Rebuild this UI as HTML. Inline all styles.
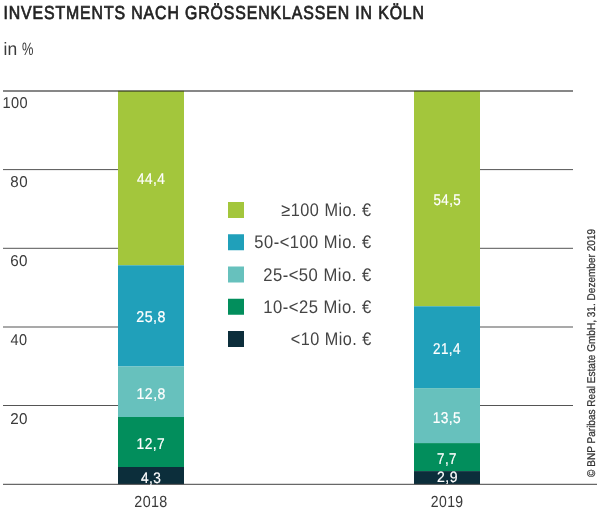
<!DOCTYPE html>
<html><head><meta charset="utf-8">
<style>
html,body{margin:0;padding:0;background:#fff;width:600px;height:514px;overflow:hidden}
svg{display:block;will-change:transform}
text{font-family:"Liberation Sans",sans-serif}
</style></head>
<body>
<svg width="600" height="514" viewBox="0 0 600 514">
<rect x="3" y="90.3" width="570" height="1.4" fill="#555"/>
<rect x="3" y="169.1" width="115" height="1" fill="#555"/>
<rect x="480" y="169.1" width="93" height="1" fill="#555"/>
<rect x="3" y="247.8" width="115" height="1" fill="#555"/>
<rect x="480" y="247.8" width="93" height="1" fill="#555"/>
<rect x="3" y="326.5" width="115" height="1" fill="#555"/>
<rect x="480" y="326.5" width="93" height="1" fill="#555"/>
<rect x="3" y="405.0" width="115" height="1" fill="#555"/>
<rect x="480" y="405.0" width="93" height="1" fill="#555"/>
<rect x="118" y="91" width="66" height="174.30" fill="#A3C63C"/>
<rect x="118" y="265.3" width="66" height="101.20" fill="#20A0BA"/>
<rect x="118" y="366.5" width="66" height="50.50" fill="#67C1BD"/>
<rect x="118" y="417.0" width="66" height="50.00" fill="#028E5C"/>
<rect x="118" y="467.0" width="66" height="17.20" fill="#0C2E3B"/>
<rect x="414" y="91" width="66" height="215.30" fill="#A3C63C"/>
<rect x="414" y="306.3" width="66" height="81.80" fill="#20A0BA"/>
<rect x="414" y="388.1" width="66" height="55.00" fill="#67C1BD"/>
<rect x="414" y="443.1" width="66" height="28.00" fill="#028E5C"/>
<rect x="414" y="471.1" width="66" height="13.10" fill="#0C2E3B"/>
<rect x="118" y="90.8" width="66" height="1.2" fill="#5f6e2c"/>
<rect x="414" y="90.8" width="66" height="1.2" fill="#5f6e2c"/>
<rect x="3" y="483.8" width="594" height="1" fill="#444"/>
<rect x="228" y="202.00" width="16" height="16" fill="#A3C63C"/>
<rect x="228" y="234.25" width="16" height="16" fill="#20A0BA"/>
<rect x="228" y="266.50" width="16" height="16" fill="#67C1BD"/>
<rect x="228" y="298.75" width="16" height="16" fill="#028E5C"/>
<rect x="228" y="331.00" width="16" height="16" fill="#0C2E3B"/>
<text transform="translate(3.39,18.80) scale(0.08517,0.10000) skewX(0.3)" font-size="187.0" letter-spacing="10.0" fill="#222" stroke="#222" stroke-width="7.0">INVESTMENTS NACH GRÖSSENKLASSEN IN KÖLN</text>
<text transform="translate(3.53,54.60) scale(0.09744,0.10000) skewX(0.3)" font-size="180.0" fill="#3a3a3a">in</text>
<text transform="translate(22.07,54.60) scale(0.07143,0.10000) skewX(0.3)" font-size="180.0" fill="#3a3a3a">%</text>
<text transform="translate(2.38,108.00) scale(0.09325,0.10000) skewX(0.3)" font-size="157.0" letter-spacing="4.0" fill="#3a3a3a">100</text>
<text transform="translate(10.32,187.00) scale(0.09697,0.10000) skewX(0.3)" font-size="157.0" letter-spacing="4.0" fill="#3a3a3a">80</text>
<text transform="translate(10.22,266.00) scale(0.09756,0.10000) skewX(0.3)" font-size="157.0" letter-spacing="4.0" fill="#3a3a3a">60</text>
<text transform="translate(10.62,345.00) scale(0.09290,0.10000) skewX(0.3)" font-size="157.0" letter-spacing="4.0" fill="#3a3a3a">40</text>
<text transform="translate(10.22,423.70) scale(0.09756,0.10000) skewX(0.3)" font-size="157.0" letter-spacing="4.0" fill="#3a3a3a">20</text>
<text transform="translate(134.29,506.90) scale(0.08930,0.10000) skewX(0.3)" font-size="161.0" letter-spacing="4.0" fill="#3a3a3a">2018</text>
<text transform="translate(430.80,506.90) scale(0.08757,0.10000) skewX(0.3)" font-size="161.0" letter-spacing="4.0" fill="#3a3a3a">2019</text>
<text transform="translate(136.92,184.35) scale(0.08754,0.10000) skewX(0.3)" font-size="156.0" letter-spacing="5.0" fill="#fff" stroke="#fff" stroke-width="2.0">44,4</text>
<text transform="translate(136.21,322.00) scale(0.09199,0.10000) skewX(0.3)" font-size="156.0" letter-spacing="5.0" fill="#fff" stroke="#fff" stroke-width="2.0">25,8</text>
<text transform="translate(136.50,398.50) scale(0.09073,0.10000) skewX(0.3)" font-size="156.0" letter-spacing="5.0" fill="#fff" stroke="#fff" stroke-width="2.0">12,8</text>
<text transform="translate(136.52,448.50) scale(0.08867,0.10000) skewX(0.3)" font-size="156.0" letter-spacing="5.0" fill="#fff" stroke="#fff" stroke-width="2.0">12,7</text>
<text transform="translate(140.92,482.50) scale(0.09061,0.10000) skewX(0.3)" font-size="152.0" letter-spacing="5.0" fill="#fff" stroke="#fff" stroke-width="2.0">4,3</text>
<text transform="translate(433.42,204.70) scale(0.08571,0.10000) skewX(0.3)" font-size="156.0" letter-spacing="5.0" fill="#fff" stroke="#fff" stroke-width="2.0">54,5</text>
<text transform="translate(432.99,354.00) scale(0.08653,0.10000) skewX(0.3)" font-size="156.0" letter-spacing="5.0" fill="#fff" stroke="#fff" stroke-width="2.0">21,4</text>
<text transform="translate(432.63,422.50) scale(0.08825,0.10000) skewX(0.3)" font-size="156.0" letter-spacing="5.0" fill="#fff" stroke="#fff" stroke-width="2.0">13,5</text>
<text transform="translate(437.08,463.90) scale(0.08592,0.10000) skewX(0.3)" font-size="156.0" letter-spacing="5.0" fill="#fff" stroke="#fff" stroke-width="2.0">7,7</text>
<text transform="translate(436.94,482.40) scale(0.09415,0.10000) skewX(0.3)" font-size="150.0" letter-spacing="5.0" fill="#fff" stroke="#fff" stroke-width="2.0">2,9</text>
<text transform="translate(281.35,215.80) scale(0.08992,0.10000) skewX(0.3)" font-size="182.0" letter-spacing="5.0" fill="#444">≥100 Mio. €</text>
<text transform="translate(254.36,248.30) scale(0.09105,0.10000) skewX(0.3)" font-size="182.0" letter-spacing="5.0" fill="#444">50-&lt;100 Mio. €</text>
<text transform="translate(263.17,280.50) scale(0.09177,0.10000) skewX(0.3)" font-size="182.0" letter-spacing="5.0" fill="#444">25-&lt;50 Mio. €</text>
<text transform="translate(263.22,312.80) scale(0.09173,0.10000) skewX(0.3)" font-size="182.0" letter-spacing="5.0" fill="#444">10-&lt;25 Mio. €</text>
<text transform="translate(290.69,344.80) scale(0.08953,0.10000) skewX(0.3)" font-size="182.0" letter-spacing="5.0" fill="#444">&lt;10 Mio. €</text>
<text transform="translate(595.40,477.00) rotate(-90) scale(0.08908,0.10000) skewX(0.3)" font-size="113.0" fill="#333" stroke="#333" stroke-width="2.5">© BNP Paribas Real Estate GmbH, 31. Dezember 2019</text>
</svg>
</body></html>
